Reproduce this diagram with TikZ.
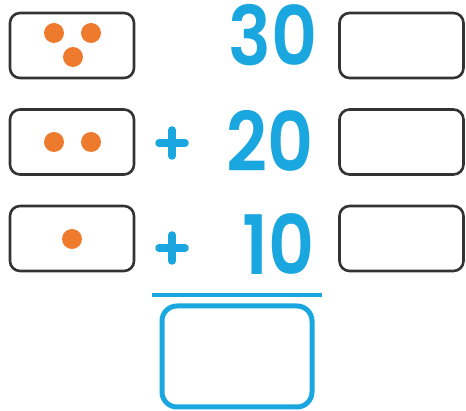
\documentclass[tikz,border=0pt]{standalone}
\usepackage{fontspec}
\newfontfamily\numfont{Poppins}[UprightFont=* SemiBold]
\definecolor{cy}{HTML}{1AA7E0}
\definecolor{og}{HTML}{EE7A2E}
\definecolor{dk}{HTML}{333333}
\newcommand{\numtxt}[1]{\scalebox{0.87}[1]{#1}}
\begin{document}
\begin{tikzpicture}[x=1pt,y=-1pt,
  graybox/.style={draw=dk,line width=2.6pt,rounded corners=10pt,minimum width=124pt,minimum height=65pt,inner sep=0pt},
  dot/.style={circle,fill=og,minimum size=20pt,inner sep=0pt},
  num/.style={text=cy,font=\numfont\fontsize{82}{82}\selectfont,anchor=east,inner sep=0pt},
  plusarm/.style={draw=cy,line width=7.5pt,line cap=round}]
\useasboundingbox (0,0) rectangle (466,411);
% left boxes
\node[graybox] (l1) at (72,45.5) {};
\node[graybox] (l2) at (72,142) {};
\node[graybox] (l3) at (72,238.5) {};
% right boxes
\node[graybox] (r1) at (401.5,45.5) {};
\node[graybox] (r2) at (401.5,142) {};
\node[graybox] (r3) at (401.5,238.5) {};
% dots
\node[dot] (d1) at (54,33) {};
\node[dot] (d2) at (91,33) {};
\node[dot] (d3) at (73,57) {};
\node[dot] (d4) at (54,142) {};
\node[dot] (d5) at (91,142) {};
\node[dot] (d6) at (72,239) {};
% numbers
\node[num] (n1) at (318,35) {\numtxt{30}};
\node[num] (n2) at (314,141) {\numtxt{20}};
\node[num] (n3) at (315,244) {\numtxt{10}};
% plus signs
\draw[plusarm] (159,143) -- (185,143) (172,130) -- (172,156);
\draw[plusarm] (159,248) -- (185,248) (172,235) -- (172,261);
% sum line and answer box
\draw[draw=cy,line width=4.5pt] (152,295) -- (322,295);
\node[draw=cy,line width=5pt,rounded corners=15pt,minimum width=150pt,minimum height=101pt,inner sep=0pt] (ans) at (237,356.5) {};
\end{tikzpicture}
\end{document}
